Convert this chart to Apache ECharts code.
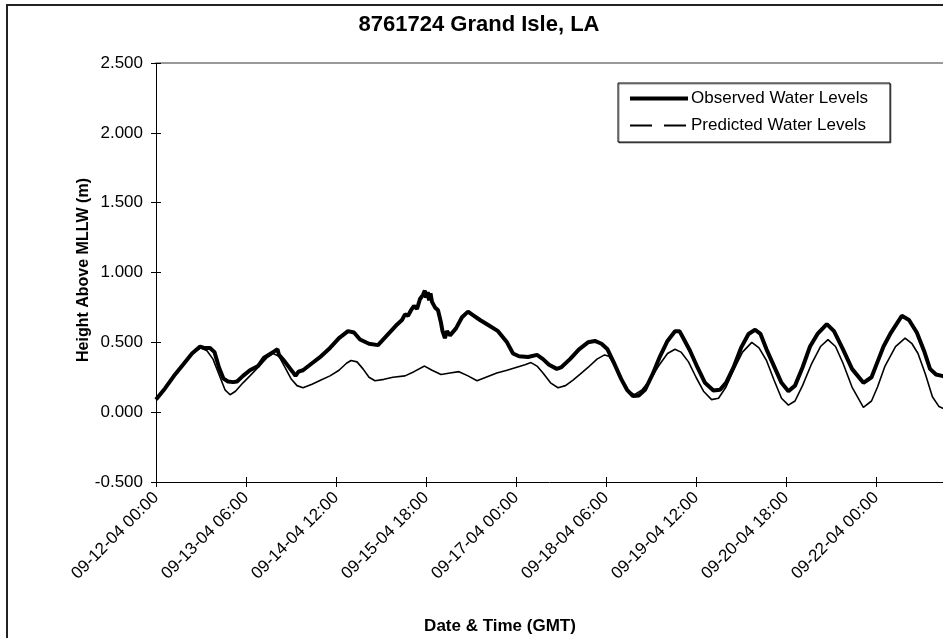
<!DOCTYPE html>
<html><head><meta charset="utf-8">
<script src="https://cdn.jsdelivr.net/npm/echarts@6/dist/echarts.min.js"></script>
<style>html,body{margin:0;padding:0;background:#fff}#c{width:943px;height:638px}</style>
</head><body><div id="c"></div>
<script>
// hours since 09-12-04 00:00 GMT
const obsHours = [0,3,6,9,12,14.7,16,18,19.5,21,22.5,24,25.7,27,29,31.3,34,36,39,40.5,41,43,45.5,46.5,47.5,49,52,55,58,61,64,66,68,71,74,77,80,82,83,84,85,86,87,88,89,89.6,90,90.6,91,91.5,92,93,94,95,95.5,96.3,97,98,100,102,104,106,108,111,114,117,119,121,124,127,129,131,133.6,135,138,141,144,146.3,148.5,150.5,152.5,155,157,159,161,163,165.5,168,170.5,173,174.5,176,178,180.5,183,185.8,188,190,192.5,195,197.5,199.7,201.5,203.5,206,208.5,210.8,213,215.5,218,220.5,223.6,226,229,232,235.8,238.5,240.5,242.5,245,248.6,251,253.6,256,258,260,262,264];
const obsLevels = [0.09,0.17,0.26,0.34,0.42,0.47,0.46,0.46,0.43,0.32,0.24,0.22,0.215,0.22,0.26,0.30,0.33,0.39,0.43,0.45,0.41,0.36,0.29,0.26,0.29,0.30,0.35,0.40,0.46,0.53,0.58,0.57,0.52,0.49,0.48,0.55,0.62,0.66,0.70,0.69,0.73,0.76,0.74,0.81,0.84,0.87,0.82,0.86,0.80,0.85,0.79,0.75,0.73,0.64,0.58,0.53,0.58,0.55,0.60,0.68,0.72,0.69,0.66,0.62,0.58,0.50,0.42,0.40,0.395,0.41,0.38,0.34,0.31,0.32,0.38,0.45,0.50,0.51,0.49,0.45,0.36,0.24,0.16,0.115,0.12,0.16,0.27,0.40,0.51,0.58,0.58,0.52,0.44,0.32,0.21,0.155,0.16,0.21,0.32,0.46,0.56,0.59,0.56,0.45,0.33,0.21,0.15,0.19,0.32,0.47,0.56,0.63,0.58,0.45,0.31,0.21,0.25,0.36,0.47,0.57,0.69,0.66,0.57,0.44,0.31,0.27,0.26,0.25];
const predHours = [0,3,6,9,12,15,17,19,21,23,24.7,26.5,29,31.3,34,37,39,41,43,45,47,49,52,55,58,61,63.5,65,67,69,71,73,76,79,83,86,89.5,92,95,98,101,104,107,110,113.6,117,120,123,125,127,129,131.5,134,136.5,139,141.3,144,147,149.5,151,153,155.5,157.5,159.5,162,164.7,167.5,170.5,173,175,177.5,180,182.5,185.2,187.5,190,192.5,195.5,198.6,201,203.5,206,208.5,210.8,213,215.5,218.6,221.5,224,226.5,229,232,235.8,238.5,240.5,243,246.5,249.7,252,254,256.5,258.8,261,264];
const predLevels = [0.09,0.17,0.26,0.34,0.42,0.46,0.44,0.38,0.27,0.16,0.125,0.15,0.21,0.26,0.32,0.39,0.42,0.40,0.32,0.24,0.19,0.175,0.20,0.23,0.26,0.30,0.35,0.37,0.36,0.31,0.25,0.225,0.235,0.25,0.26,0.29,0.33,0.30,0.27,0.28,0.29,0.26,0.225,0.25,0.28,0.30,0.32,0.34,0.355,0.33,0.28,0.21,0.175,0.19,0.23,0.27,0.32,0.38,0.41,0.40,0.33,0.22,0.15,0.125,0.16,0.23,0.33,0.42,0.45,0.43,0.36,0.25,0.15,0.09,0.10,0.18,0.30,0.43,0.50,0.46,0.37,0.23,0.10,0.05,0.08,0.19,0.35,0.47,0.52,0.47,0.35,0.18,0.035,0.08,0.18,0.33,0.47,0.53,0.49,0.42,0.27,0.11,0.04,0.01];
const tickLabels = ['09-12-04 00:00','09-13-04 06:00','09-14-04 12:00','09-15-04 18:00','09-17-04 00:00','09-18-04 06:00','09-19-04 12:00','09-20-04 18:00','09-22-04 00:00'];
const tickHours = [0,30,60,90,120,150,180,210,240];
const seriesNames = ['Observed Water Levels','Predicted Water Levels'];
const xEnd = 262.33; // visible end of the time axis (hours), chart is cropped at the right

const zip = (a, b) => a.map((h, i) => [h, b[i]]);
const font = 'Arial, "Liberation Sans", sans-serif';
const chart = echarts.init(document.getElementById('c'));
const xBase = {type:'value', min:0, max:xEnd, interval:30, splitLine:{show:false}};
const yBase = {type:'value', min:-0.5, max:2.5, interval:0.5, splitLine:{show:false}};
chart.setOption({
  animation:false,
  backgroundColor:'#fff',
  title:{text:'8761724 Grand Isle, LA', left:474, textAlign:'center', top:9,
    textStyle:{fontFamily:font, fontWeight:'bold', fontSize:22, color:'#000'}},
  grid:{left:156, top:63, right:0, height:419, show:false},
  xAxis:[
    Object.assign({}, xBase, {
      axisLine:{onZero:false, lineStyle:{color:'#000', width:1}},
      axisTick:{length:5, customValues:tickHours, lineStyle:{color:'#000'}},
      axisLabel:{rotate:45, fontFamily:font, fontSize:17, color:'#000', margin:13,
        customValues:tickHours,
        formatter:v => tickLabels[tickHours.indexOf(Math.round(v))] || ''}}),
    Object.assign({}, xBase, {position:'bottom',
      axisLine:{show:false, onZero:false},
      axisTick:{inside:true, length:5, customValues:tickHours, lineStyle:{color:'#000'}},
      axisLabel:{show:false}}),
    Object.assign({}, xBase, {position:'top',
      axisLine:{show:true, onZero:false, lineStyle:{color:'#999', width:2}},
      axisTick:{show:false}, axisLabel:{show:false}})
  ],
  yAxis:[
    Object.assign({}, yBase, {
      axisLine:{show:true, onZero:false, lineStyle:{color:'#000', width:1}},
      axisTick:{show:true, length:5, lineStyle:{color:'#000'}},
      axisLabel:{fontFamily:font, fontSize:17, color:'#000', margin:13,
        formatter:v => v.toFixed(3)}}),
    Object.assign({}, yBase, {position:'left',
      axisLine:{show:false, onZero:false},
      axisTick:{show:true, inside:true, length:5, lineStyle:{color:'#000'}},
      axisLabel:{show:false}})
  ],
  legend:{orient:'vertical', left:618, top:83, itemWidth:58, itemHeight:14, itemGap:10,
    padding:[7,22,8,10], borderColor:'#000', borderWidth:1, backgroundColor:'#fff',
    shadowColor:'rgba(0,0,0,0.45)', shadowOffsetX:1, shadowOffsetY:1, shadowBlur:0,
    textStyle:{fontFamily:font, fontSize:17, color:'#000', padding:[0,0,0,-2]},
    data:[
      {name:seriesNames[0], lineStyle:{width:4}, itemStyle:{opacity:0}},
      {name:seriesNames[1], lineStyle:{width:2, type:[22,12]}, itemStyle:{opacity:0}}
    ]},
  graphic:[
    {type:'rect', shape:{x:7, y:5, width:1200, height:1200}, style:{fill:'none', stroke:'#222', lineWidth:2}, silent:true},
    {type:'text', x:84, y:270, rotation:Math.PI/2,
      style:{text:'Height Above MLLW (m)', font:'bold 16px ' + font, fill:'#000', align:'center', verticalAlign:'middle'}},
    {type:'text', x:500, y:626,
      style:{text:'Date & Time (GMT)', font:'bold 17px ' + font, fill:'#000', align:'center', verticalAlign:'middle'}}
  ],
  series:[
    {name:seriesNames[1], type:'line', data:zip(predHours, predLevels), showSymbol:false, symbol:'none',
      lineStyle:{color:'#000', width:1.6}, itemStyle:{color:'#000'}, z:2},
    {name:seriesNames[0], type:'line', data:zip(obsHours, obsLevels), showSymbol:false, symbol:'none',
      lineStyle:{color:'#000', width:4}, itemStyle:{color:'#000'}, z:3}
  ]
});
</script></body></html>
